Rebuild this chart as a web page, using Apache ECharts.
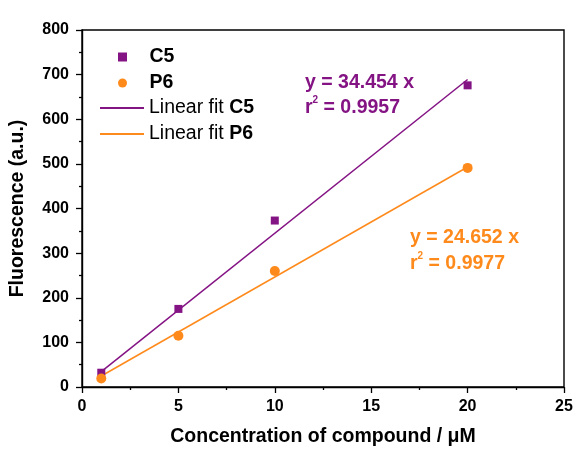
<!DOCTYPE html>
<html>
<head>
<meta charset="utf-8">
<script src="https://cdn.jsdelivr.net/npm/echarts@6/dist/echarts.min.js"></script>
<style>
  html, body { margin: 0; padding: 0; background: #fff; }
  #chart { width: 576px; height: 453px; }
</style>
</head>
<body>
<div id="chart"></div>
<script>
// Measured fluorescence for each compound concentration (µM)
const concentrations = [1, 5, 10, 20];
const c5Values = [32, 175, 373, 676];
const p6Values = [19, 115, 260, 491];

// Linear fits through the origin
const c5Slope = 34.454;
const c5R2 = '0.9957';
const p6Slope = 24.652;
const p6R2 = '0.9977';
const fitRange = [1, 20];

const xTicks = [0, 5, 10, 15, 20, 25];
const yTicks = [0, 100, 200, 300, 400, 500, 600, 700, 800];

const purple = '#841384';
const orange = '#ff8a1c';
const font = 'Liberation Sans, Arial, sans-serif';
const bigFont = 19.5;

const pairs = (xs, ys) => xs.map((x, i) => [x, ys[i]]);
const fitLine = (slope) => fitRange.map(x => [x, slope * x]);

const chart = echarts.init(document.getElementById('chart'), null, { renderer: 'canvas' });

const axisCommon = {
  axisLine: { show: true, lineStyle: { color: '#000', width: 1.4 } },
  axisTick: { show: true, inside: false, length: 6, lineStyle: { color: '#000', width: 1.3 } },
  minorTick: { show: true, splitNumber: 2, length: 3, lineStyle: { color: '#000', width: 1.3 } },
  splitLine: { show: false },
  axisLabel: { color: '#000', fontFamily: font, fontWeight: 'bold', fontSize: 16 },
  nameTextStyle: { color: '#000', fontFamily: font, fontWeight: 'bold', fontSize: bigFont }
};

chart.setOption({
  animation: false,
  backgroundColor: '#fff',
  grid: { left: 81, right: 12, top: 30, bottom: 66, show: true, borderColor: '#000', borderWidth: 1.4 },
  xAxis: Object.assign({}, axisCommon, {
    type: 'value',
    min: xTicks[0], max: xTicks[xTicks.length - 1], interval: 5,
    name: 'Concentration of compound / \u03bcM',
    nameLocation: 'middle', nameGap: 40,
    axisLabel: Object.assign({}, axisCommon.axisLabel, { margin: 12 })
  }),
  yAxis: Object.assign({}, axisCommon, {
    type: 'value',
    min: yTicks[0], max: yTicks[yTicks.length - 1], interval: 100,
    name: 'Fluorescence (a.u.)',
    nameLocation: 'middle', nameGap: 54,
    axisLabel: Object.assign({}, axisCommon.axisLabel, { margin: 13 })
  }),
  legend: [
    {
      left: 113, top: 42, orient: 'vertical', itemGap: 6,
      itemWidth: 44, itemHeight: 9, symbolKeepAspect: true,
      textStyle: { fontFamily: font, fontSize: bigFont, fontWeight: 'bold', color: '#000' },
      data: [
        { name: 'C5', icon: 'path://M0,0H10V10H0Z' },
        { name: 'P6', icon: 'path://M5,0A5,5 0 1 1 4.999,0Z' }
      ]
    },
    {
      left: 94, top: 93, orient: 'vertical', itemGap: 6,
      itemWidth: 44, itemHeight: 2,
      textStyle: { fontFamily: font, fontSize: bigFont, color: '#000',
        rich: { b: { fontFamily: font, fontSize: bigFont, fontWeight: 'bold', color: '#000' } } },
      formatter: (name) => {
        const parts = name.split(' ');
        const id = parts.pop();
        return parts.join(' ') + ' {b|' + id + '}';
      },
      data: [
        { name: 'Linear fit C5', itemStyle: { opacity: 0 } },
        { name: 'Linear fit P6', itemStyle: { opacity: 0 } }
      ]
    }
  ],
  series: [
    {
      name: 'Linear fit C5', type: 'line', data: fitLine(c5Slope),
      symbol: 'none', lineStyle: { color: purple, width: 1.5 }, itemStyle: { color: purple }, z: 2
    },
    {
      name: 'Linear fit P6', type: 'line', data: fitLine(p6Slope),
      symbol: 'none', lineStyle: { color: orange, width: 1.5 }, itemStyle: { color: orange }, z: 2
    },
    {
      name: 'C5', type: 'scatter', data: pairs(concentrations, c5Values),
      symbol: 'rect', symbolSize: 8, itemStyle: { color: purple, opacity: 1 }, z: 3
    },
    {
      name: 'P6', type: 'scatter', data: pairs(concentrations, p6Values),
      symbol: 'circle', symbolSize: 10, itemStyle: { color: orange, opacity: 1 }, z: 3
    }
  ],
  graphic: [
    {
      type: 'text', left: 305, top: 70,
      style: {
        text: 'y = ' + c5Slope + ' x\n{r|r}{s|2}{r| = ' + c5R2 + '}',
        fill: purple, font: 'bold ' + bigFont + 'px ' + font, lineHeight: 25,
        rich: {
          r: { fill: purple, font: 'bold ' + bigFont + 'px ' + font, lineHeight: 25 },
          s: { fill: purple, font: 'bold 10px ' + font, verticalAlign: 'top', padding: [0, 0, 9, 0] }
        }
      }
    },
    {
      type: 'text', left: 410, top: 225,
      style: {
        text: 'y = ' + p6Slope + ' x\n{r|r}{s|2}{r| = ' + p6R2 + '}',
        fill: orange, font: 'bold ' + bigFont + 'px ' + font, lineHeight: 26,
        rich: {
          r: { fill: orange, font: 'bold ' + bigFont + 'px ' + font, lineHeight: 26 },
          s: { fill: orange, font: 'bold 10px ' + font, verticalAlign: 'top', padding: [0, 0, 9, 0] }
        }
      }
    }
  ]
});
</script>
</body>
</html>
